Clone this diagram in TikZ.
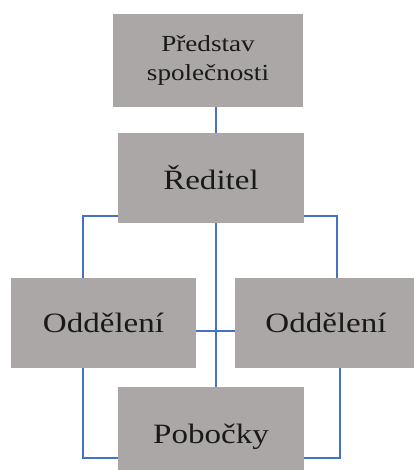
\documentclass[tikz,border=0pt]{standalone}
\usepackage{fontspec}
\usepackage{graphicx}
\setmainfont{Liberation Serif}
\definecolor{boxgray}{RGB}{171,167,167}
\definecolor{linkblue}{RGB}{70,114,196}
\definecolor{inktext}{RGB}{25,25,25}
\newcommand{\wide}[1]{\scalebox{1.18}[1]{#1}}
\begin{document}
\begin{tikzpicture}[x=1pt,y=-1pt,
  orgbox/.style={fill=boxgray, draw=none, inner sep=0pt, outer sep=0pt,
    text=inktext, align=center, font=\fontsize{28}{34}\selectfont},
  smalltext/.style={font=\fontsize{23}{29}\selectfont},
  link/.style={draw=linkblue, line width=2.6pt, line cap=butt, line join=miter}]
\useasboundingbox (0,0) rectangle (413,470);

% organisation boxes
\node[orgbox, smalltext, minimum width=190pt, minimum height=93pt] (top) at (208,60.5)
  {\wide{Představ}\\\wide{společnosti}};
\node[orgbox, minimum width=186pt, minimum height=90pt] (dir) at (211,178)
  {\wide{Ředitel}};
\node[orgbox, minimum width=185pt, minimum height=90pt] (leftdept) at (103.5,323)
  {\wide{Oddělení}};
\node[orgbox, minimum width=182pt, minimum height=90pt] (rightdept) at (326,323)
  {\wide{Oddělení}};
\node[orgbox, minimum width=186pt, minimum height=100pt] (branch) at (211,437)
  {\wide{Pobočky}};

% guide coordinates for the connector routes
\coordinate (spine) at (216,0);
\coordinate (leftcol) at (83,0);
\coordinate (rightcol) at (337,0);
\coordinate (rightlow) at (340,0);
\coordinate (upperrow) at (0,216);
\coordinate (midrow) at (0,331);
\coordinate (lowrow) at (0,458);

% connectors
\draw[link] (top.south -| spine) -- (dir.north -| spine);
\draw[link] (dir.south -| spine) -- (branch.north -| spine);
\draw[link] (dir.west |- upperrow) -| (leftdept.north -| leftcol);
\draw[link] (dir.east |- upperrow) -| (rightdept.north -| rightcol);
\draw[link] (leftdept.east |- midrow) -- (rightdept.west |- midrow);
\draw[link] (leftdept.south -| leftcol) |- (branch.west |- lowrow);
\draw[link] (rightdept.south -| rightlow) |- (branch.east |- lowrow);
\end{tikzpicture}
\end{document}
